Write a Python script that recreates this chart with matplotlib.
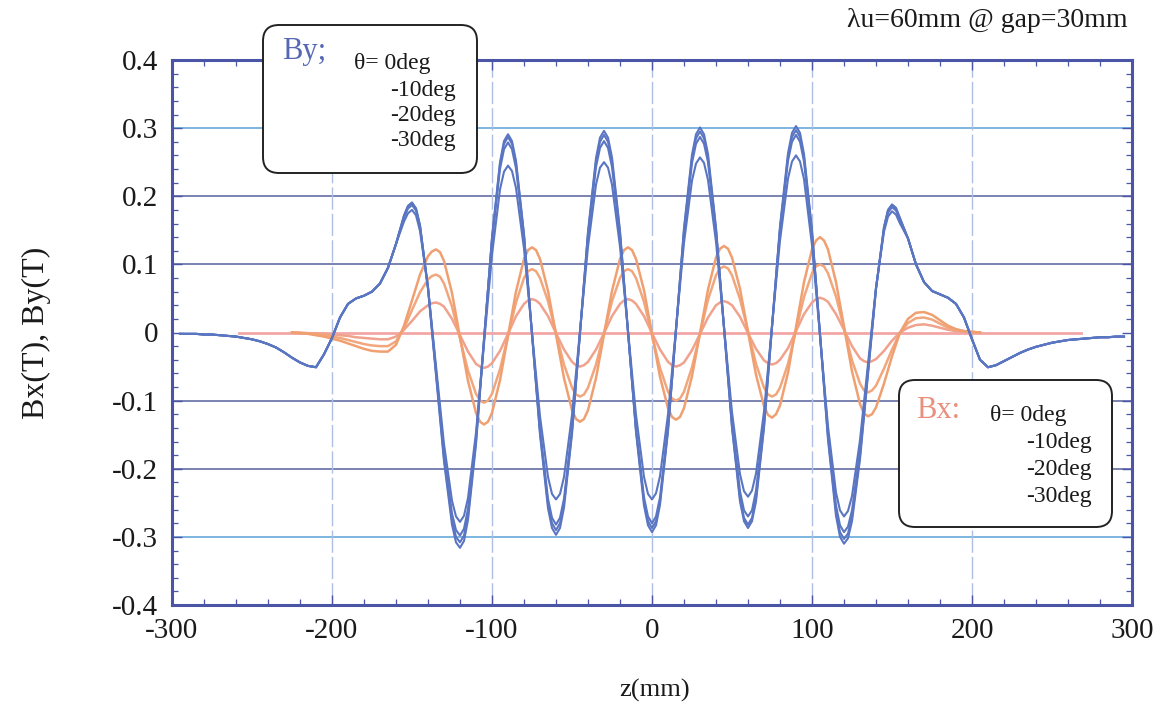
import numpy as np
import matplotlib.pyplot as plt
from matplotlib.patches import FancyBboxPatch
from matplotlib.transforms import IdentityTransform
from matplotlib.ticker import MultipleLocator

plt.rcParams['font.family'] = ['Liberation Serif', 'DejaVu Serif']
plt.rcParams['axes.unicode_minus'] = False

# sample positions (mm); extra samples 2.5 mm either side of each extremum
by_ext = np.array([-150, -120, -90, -60, -30, 0, 30, 60, 90, 120, 150])
bx_ext = np.array([-135, -105, -75, -45, -15, 15, 45, 75, 105, 135])
z_tail_l = np.arange(-295, -155, 5)
z_core = np.sort(np.concatenate([np.arange(-155, 160, 5), by_ext - 2.5, by_ext + 2.5]))
z_tail_r = np.arange(160, 300, 5)
z_bx = np.sort(np.concatenate([np.arange(-225, 210, 5), bx_ext - 2.5, bx_ext + 2.5]))
z_bx0 = [-258, 268]

# By ends are the same for every angle
by_tail_l = [-0.002, -0.002, -0.002, -0.003, -0.003, -0.004, -0.005, -0.006, -0.008, -0.010,
             -0.013, -0.017, -0.022, -0.029, -0.037, -0.044, -0.049, -0.051, -0.032, -0.008,
             0.022, 0.042, 0.050, 0.054, 0.060, 0.072, 0.095, 0.130]
by_tail_r = [0.138, 0.100, 0.074, 0.061, 0.056, 0.051, 0.042, 0.022, -0.010, -0.040,
             -0.051, -0.048, -0.042, -0.036, -0.030, -0.025, -0.021, -0.018, -0.015, -0.013,
             -0.011, -0.010, -0.009, -0.008, -0.007, -0.007, -0.006, -0.006]

# By core, theta = 0, -10, -20, -30 deg
by_0 = [0.172, 0.186, 0.191, 0.182, 0.157, 0.064, -0.063, -0.189, -0.282, -0.308,
        -0.316, -0.306, -0.275, -0.164, -0.013, 0.139, 0.250, 0.281, 0.291, 0.281,
        0.252, 0.144, -0.003, -0.150, -0.258, -0.287, -0.297, -0.287, -0.257, -0.149,
        0.000, 0.148, 0.256, 0.286, 0.296, 0.286, 0.257, 0.149, 0.002, -0.146,
        -0.254, -0.283, -0.293, -0.283, -0.253, -0.145, 0.004, 0.153, 0.261, 0.291,
        0.301, 0.291, 0.262, 0.154, 0.007, -0.140, -0.248, -0.277, -0.287, -0.277,
        -0.248, -0.140, 0.008, 0.156, 0.263, 0.293, 0.303, 0.293, 0.262, 0.150,
        -0.004, -0.157, -0.269, -0.300, -0.310, -0.302, -0.277, -0.186, -0.061, 0.063,
        0.155, 0.180, 0.188, 0.183, 0.168]
by_10 = [0.171, 0.185, 0.190, 0.182, 0.157, 0.066, -0.059, -0.184, -0.275, -0.300,
         -0.308, -0.298, -0.268, -0.159, -0.011, 0.138, 0.247, 0.277, 0.287, 0.277,
         0.248, 0.143, -0.002, -0.146, -0.251, -0.280, -0.290, -0.280, -0.251, -0.145,
         0.000, 0.145, 0.251, 0.280, 0.290, 0.280, 0.251, 0.146, 0.002, -0.143,
         -0.248, -0.277, -0.287, -0.277, -0.248, -0.142, 0.004, 0.150, 0.256, 0.285,
         0.295, 0.285, 0.256, 0.151, 0.007, -0.138, -0.243, -0.272, -0.282, -0.272,
         -0.243, -0.137, 0.008, 0.152, 0.258, 0.287, 0.297, 0.287, 0.257, 0.147,
         -0.003, -0.153, -0.263, -0.293, -0.303, -0.295, -0.270, -0.181, -0.058, 0.065,
         0.154, 0.179, 0.187, 0.182, 0.167]
by_20 = [0.169, 0.182, 0.187, 0.179, 0.155, 0.066, -0.056, -0.177, -0.266, -0.290,
         -0.298, -0.288, -0.259, -0.154, -0.010, 0.135, 0.240, 0.269, 0.279, 0.269,
         0.241, 0.139, -0.002, -0.142, -0.244, -0.272, -0.282, -0.272, -0.244, -0.141,
         0.000, 0.140, 0.243, 0.271, 0.281, 0.271, 0.243, 0.141, 0.001, -0.140,
         -0.242, -0.270, -0.280, -0.270, -0.242, -0.138, 0.004, 0.145, 0.249, 0.277,
         0.287, 0.277, 0.250, 0.148, 0.009, -0.131, -0.233, -0.261, -0.270, -0.261,
         -0.232, -0.130, 0.010, 0.150, 0.252, 0.280, 0.290, 0.280, 0.251, 0.144,
         -0.002, -0.147, -0.254, -0.283, -0.293, -0.285, -0.261, -0.174, -0.055, 0.065,
         0.152, 0.176, 0.184, 0.179, 0.165]
by_30 = [0.163, 0.175, 0.180, 0.172, 0.149, 0.066, -0.049, -0.164, -0.247, -0.270,
         -0.278, -0.269, -0.243, -0.147, -0.017, 0.114, 0.210, 0.236, 0.245, 0.237,
         0.212, 0.123, 0.000, -0.123, -0.212, -0.237, -0.245, -0.237, -0.212, -0.121,
         0.003, 0.126, 0.217, 0.242, 0.250, 0.242, 0.217, 0.126, 0.003, -0.121,
         -0.212, -0.237, -0.245, -0.236, -0.211, -0.120, 0.006, 0.132, 0.223, 0.248,
         0.257, 0.249, 0.224, 0.133, 0.008, -0.117, -0.208, -0.233, -0.241, -0.232,
         -0.207, -0.116, 0.010, 0.135, 0.226, 0.251, 0.260, 0.251, 0.225, 0.128,
         -0.005, -0.138, -0.235, -0.261, -0.270, -0.262, -0.240, -0.158, -0.046, 0.066,
         0.148, 0.170, 0.178, 0.173, 0.160]

# Bx, theta = -10, -20, -30 deg (theta = 0 is flat)
bx_10 = [0.000, 0.000, -0.001, -0.001, -0.002, -0.003, -0.004, -0.005, -0.007, -0.008,
         -0.009, -0.010, -0.010, -0.006, 0.004, 0.017, 0.031, 0.040,
         0.043, 0.044, 0.042, 0.038, 0.020, -0.004, -0.028, -0.046,
         -0.050, -0.052, -0.050, -0.045, -0.027, -0.002, 0.024, 0.042,
         0.047, 0.049, 0.047, 0.042, 0.024, -0.001, -0.025, -0.043,
         -0.048, -0.050, -0.048, -0.043, -0.025, -0.001, 0.024, 0.042,
         0.047, 0.049, 0.047, 0.042, 0.024, -0.001, -0.025, -0.043,
         -0.048, -0.050, -0.048, -0.044, -0.026, -0.002, 0.022, 0.040,
         0.044, 0.046, 0.044, 0.040, 0.023, -0.001, -0.024, -0.041,
         -0.045, -0.047, -0.045, -0.040, -0.023, 0.002, 0.027, 0.044,
         0.049, 0.051, 0.049, 0.045, 0.027, 0.004, -0.020, -0.038,
         -0.042, -0.044, -0.042,
         -0.039, -0.027, -0.012, 0.000, 0.007, 0.011, 0.012, 0.010, 0.007, 0.004,
         0.002, 0.001, 0.000, 0.000]
bx_20 = [0.000, -0.001, -0.001, -0.003, -0.004, -0.006, -0.008, -0.011, -0.014, -0.017,
         -0.019, -0.020, -0.020, -0.013, 0.006, 0.033, 0.059, 0.078,
         0.083, 0.085, 0.082, 0.072, 0.038, -0.009, -0.056, -0.090,
         -0.100, -0.103, -0.100, -0.090, -0.054, -0.005, 0.044, 0.080,
         0.090, 0.093, 0.090, 0.080, 0.046, -0.001, -0.047, -0.081,
         -0.091, -0.094, -0.091, -0.081, -0.047, -0.001, 0.046, 0.080,
         0.090, 0.093, 0.090, 0.080, 0.045, -0.004, -0.052, -0.087,
         -0.097, -0.100, -0.097, -0.087, -0.051, -0.002, 0.048, 0.084,
         0.094, 0.097, 0.094, 0.084, 0.049, 0.002, -0.046, -0.081,
         -0.091, -0.094, -0.091, -0.081, -0.046, 0.003, 0.052, 0.087,
         0.097, 0.100, 0.097, 0.087, 0.053, 0.006, -0.041, -0.075,
         -0.085, -0.088, -0.085,
         -0.078, -0.053, -0.025, 0.000, 0.014, 0.021, 0.022, 0.019, 0.013, 0.007,
         0.004, 0.002, 0.001, 0.000]
bx_30 = [0.000, -0.001, -0.002, -0.004, -0.006, -0.009, -0.012, -0.016, -0.020, -0.024,
         -0.027, -0.028, -0.028, -0.018, 0.010, 0.047, 0.085, 0.112,
         0.119, 0.122, 0.118, 0.105, 0.058, -0.007, -0.071, -0.118,
         -0.131, -0.135, -0.131, -0.118, -0.070, -0.005, 0.060, 0.108,
         0.121, 0.125, 0.121, 0.108, 0.061, -0.003, -0.067, -0.114,
         -0.127, -0.131, -0.127, -0.114, -0.067, -0.003, 0.061, 0.108,
         0.121, 0.125, 0.121, 0.108, 0.062, -0.002, -0.065, -0.111,
         -0.124, -0.128, -0.124, -0.111, -0.064, -0.001, 0.063, 0.110,
         0.123, 0.127, 0.123, 0.110, 0.064, 0.001, -0.062, -0.108,
         -0.121, -0.125, -0.120, -0.107, -0.059, 0.008, 0.074, 0.122,
         0.135, 0.140, 0.135, 0.122, 0.074, 0.009, -0.057, -0.105,
         -0.119, -0.123, -0.120,
         -0.110, -0.075, -0.035, 0.000, 0.020, 0.029, 0.030, 0.026, 0.018, 0.010,
         0.005, 0.002, 0.001, 0.000]
bx_0 = [0.0, 0.0]

angle_labels = ['\u03b8= 0deg', '-10deg', '-20deg', '-30deg']

W, H = 1164, 719
fig = plt.figure(figsize=(W / 100, H / 100), dpi=100)
ax = fig.add_axes([172 / W, 1 - 605 / H, 960 / W, 545 / H])

def fpos(x, y):
    return x / W, 1 - y / H

spine_c = '#4a55a8'
for lv in [-0.2, -0.1, 0.1, 0.2]:
    ax.axhline(lv, color='#56609c', lw=1.1, zorder=1)
for lv in [-0.3, 0.3]:
    ax.axhline(lv, color='#7db6e0', lw=1.4, zorder=1)
for lv in [-200, -100, 0, 100, 200]:
    ax.axvline(lv, color='#adc0e3', lw=1.0, ls=(0, (16, 3)), zorder=1)

by_col = '#5a76c2'
for core in [by_30, by_20, by_10, by_0]:
    z = np.concatenate([z_tail_l, z_core, z_tail_r])
    b = np.concatenate([by_tail_l, core, by_tail_r])
    ax.plot(z, b, color=by_col, lw=1.5, zorder=3, solid_joinstyle='round')

ax.plot(z_bx0, bx_0, color='#f3a6a6', lw=2.0, zorder=2)
ax.plot(z_bx, bx_10, color='#f0a28c', lw=1.8, zorder=2, solid_joinstyle='round')
ax.plot(z_bx, bx_20, color='#f2a67c', lw=1.8, zorder=2, solid_joinstyle='round')
ax.plot(z_bx, bx_30, color='#f0a070', lw=1.8, zorder=2, solid_joinstyle='round')

ax.set_xlim(-300, 300)
ax.set_ylim(-0.4, 0.4)
ax.set_xticks([-300, -200, -100, 0, 100, 200, 300])
ax.set_yticks([-0.4, -0.3, -0.2, -0.1, 0, 0.1, 0.2, 0.3, 0.4])
ax.set_yticklabels(['-0.4', '-0.3', '-0.2', '-0.1', '0', '0.1', '0.2', '0.3', '0.4'])
ax.xaxis.set_minor_locator(MultipleLocator(20))
ax.yaxis.set_minor_locator(MultipleLocator(0.02))
ax.tick_params(which='both', direction='in', top=True, right=True,
               color=spine_c, labelsize=21, labelcolor='#1a1a1a')
ax.tick_params(which='major', length=7, width=1.0)
ax.tick_params(which='minor', length=4, width=0.9)
ax.tick_params(axis='y', pad=10)
ax.tick_params(axis='x', pad=9)
for s in ax.spines.values():
    s.set_color(spine_c)
    s.set_linewidth(2.2)

fig.text(*fpos(655, 690), 'z(mm)', fontsize=19, ha='center', va='center', color='#1a1a1a')
fig.text(*fpos(36, 333), 'Bx(T), By(T)', fontsize=23, ha='center', va='center',
         rotation=90, color='#1a1a1a')
fig.text(*fpos(1128, 27), '\u03bbu=60mm @ gap=30mm', fontsize=20, ha='right',
         va='baseline', color='#1a1a1a')

# legend boxes, drawn in pixels
for x0, y0, x1, y1 in [(263, 25, 477, 173), (899, 380, 1112, 527)]:
    box = FancyBboxPatch((x0, H - y1), x1 - x0, y1 - y0,
                         boxstyle='round,pad=0,rounding_size=16',
                         transform=IdentityTransform(), facecolor='white',
                         edgecolor='#222222', lw=1.4, zorder=10)
    fig.add_artist(box)

fig.text(*fpos(282, 59), 'By;', fontsize=22, color='#5668b4', va='baseline', zorder=11)
fig.text(*fpos(354, 69), angle_labels[0], fontsize=17, color='#1a1a1a', va='baseline', zorder=11)
for lab, yb in zip(angle_labels[1:], [96, 121, 146]):
    fig.text(*fpos(456, yb), lab, fontsize=17, color='#1a1a1a', ha='right', va='baseline', zorder=11)

fig.text(*fpos(916, 418), 'Bx:', fontsize=22, color='#e8907c', va='baseline', zorder=11)
fig.text(*fpos(990, 421), angle_labels[0], fontsize=17, color='#1a1a1a', va='baseline', zorder=11)
for lab, yb in zip(angle_labels[1:], [448, 475, 502]):
    fig.text(*fpos(1092, yb), lab, fontsize=17, color='#1a1a1a', ha='right', va='baseline', zorder=11)

fig.savefig('out.png', dpi=100)
